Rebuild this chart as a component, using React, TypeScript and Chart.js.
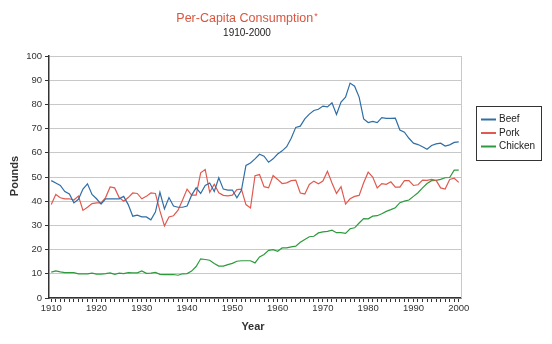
import React, { useEffect, useRef } from "react";
import { Chart, registerables } from "chart.js";
Chart.register(...registerables);

const years: string[] = Array.from({ length: 91 }, (_, i) => String(1910 + i));
const tickYears = ["1910", "1920", "1930", "1940", "1950", "1960", "1970", "1980", "1990", "2000"];

const beef = [
  48.5, 47.5, 46.5, 44, 43, 39.3, 40.8, 45, 47.2, 42.8,
  41, 38.8, 41, 41, 41, 41, 42, 38.6, 33.8, 34.2,
  33.5, 33.5, 32.3, 35.5, 43.7, 36.8, 41.5, 38, 37.5, 37.5,
  38, 42.5, 45.5, 43.2, 46.5, 47.5, 44, 49.7, 45, 44.6,
  44.6, 41.4, 44.5, 54.8, 55.8, 57.5, 59.4, 58.6, 56.1, 57.5,
  59.5, 60.8, 62.5, 66, 70.5, 71, 74, 76, 77.5, 78,
  79.3, 79, 80.7, 75.8, 81, 83, 88.8, 87.5, 83, 74,
  72.5, 73, 72.5, 74.5, 74.2, 74.2, 74.3, 69.4, 68.5, 66,
  64, 63.4, 62.5, 61.5, 63, 63.7, 64, 62.8, 63.3, 64.3,
  64.5,
];

const pork = [
  38.6, 42.8, 41.4, 41, 41, 40.5, 42.1, 36.2, 37.5, 39,
  39.3, 39.3, 41.5, 45.9, 45.5, 41.5, 40, 41.5, 43.4, 43.2,
  41, 42, 43.4, 43.2, 36, 29.8, 33.5, 34, 36.3, 40.5,
  45, 42.5, 42.5, 51.7, 53.1, 43.7, 47, 43.5, 42.4, 42.2,
  42.5, 44.8, 45, 38.6, 37.2, 50.5, 51, 46, 45.5, 50.6,
  49, 47.3, 47.6, 48.5, 48.7, 43.4, 43, 46.9, 48.3, 47.2,
  48.3, 52.4, 47.5, 43.2, 46, 38.8, 41, 42, 42.4, 47.6,
  52, 50, 45.5, 47.3, 47, 48, 45.8, 45.8, 48.5, 48.5,
  46.5, 46.8, 48.7, 48.6, 49, 48.6, 45.5, 45, 49, 49.5,
  47.8,
];

const chicken = [
  10.7, 11.2, 10.8, 10.5, 10.5, 10.5, 10, 10, 10, 10.3,
  9.9, 9.9, 10.1, 10.4, 9.8, 10.3, 10.1, 10.5, 10.4, 10.4,
  11.2, 10.2, 10.3, 10.6, 9.8, 9.7, 9.7, 9.7, 9.4, 10,
  10.1, 11.1, 13, 16.2, 15.9, 15.6, 14.3, 13.2, 13.2, 13.8,
  14.3, 15.2, 15.4, 15.4, 15.4, 14.5, 17, 18, 19.7, 20,
  19.3, 20.7, 20.7, 21.1, 21.4, 23, 24.2, 25.3, 25.5, 26.9,
  27.3, 27.5, 28, 27, 27, 26.7, 28.6, 29, 31, 32.8,
  32.7, 33.8, 34, 34.8, 35.8, 36.5, 37.3, 39.4, 40, 40.5,
  42, 43.5, 45.5, 47.3, 48.5, 48.6, 49, 49.7, 49.8, 52.8,
  52.8,
];

const seriesNames = ["Beef", "Pork", "Chicken"];
const seriesColors = ["#2f6ea6", "#e05a50", "#2e9a3e"];
const titleText = "Per-Capita Consumption";
const subtitleText = "1910-2000";
const yTitle = "Pounds";
const xTitle = "Year";

const FONT = "'Liberation Sans', Arial, sans-serif";

const decor = {
  id: "decor",
  beforeDatasetsDraw(chart: any) {
    const { ctx, chartArea } = chart;
    ctx.save();
    ctx.strokeStyle = "#c8c8c8";
    ctx.lineWidth = 1;
    ctx.beginPath();
    const rx = Math.round(chartArea.right) + 0.5;
    ctx.moveTo(rx, chartArea.top);
    ctx.lineTo(rx, chartArea.bottom);
    ctx.stroke();
    ctx.restore();
  },
  afterDraw(chart: any) {
    const { ctx } = chart;
    ctx.save();
    // title
    ctx.font = `12.5px ${FONT}`;
    ctx.fillStyle = "#d9553f";
    ctx.textBaseline = "middle";
    const tw = ctx.measureText(titleText).width;
    ctx.font = `9px ${FONT}`;
    const aw = ctx.measureText("*").width + 1;
    const cx = 247;
    const tx = cx - (tw + aw) / 2;
    ctx.font = `12.5px ${FONT}`;
    ctx.textAlign = "left";
    ctx.fillText(titleText, tx, 18.5);
    ctx.font = `9px ${FONT}`;
    ctx.fillText("*", tx + tw + 1, 16.5);
    // subtitle
    ctx.font = `10px ${FONT}`;
    ctx.fillStyle = "#222";
    ctx.textAlign = "center";
    ctx.fillText(subtitleText, cx, 33);
    // axis titles
    ctx.font = `bold 11px ${FONT}`;
    ctx.fillStyle = "#333";
    ctx.fillText(xTitle, 253, 327);
    ctx.save();
    ctx.translate(15, 176);
    ctx.rotate(-Math.PI / 2);
    ctx.fillText(yTitle, 0, 0);
    ctx.restore();
    // legend
    const bx = 476.5, by = 106.5, bw = 65, bh = 54;
    ctx.strokeStyle = "#333";
    ctx.lineWidth = 1;
    ctx.strokeRect(bx, by, bw, bh);
    ctx.font = `10px ${FONT}`;
    ctx.textAlign = "left";
    ctx.fillStyle = "#222";
    seriesNames.forEach((name, i) => {
      const ly = 119.5 + i * 13.5;
      ctx.strokeStyle = seriesColors[i];
      ctx.lineWidth = 2;
      ctx.beginPath();
      ctx.moveTo(481, ly);
      ctx.lineTo(496, ly);
      ctx.stroke();
      ctx.fillText(name, 499, ly);
    });
    ctx.restore();
  },
};

export default function App() {
  const ref = useRef<HTMLCanvasElement | null>(null);
  useEffect(() => {
    if (!ref.current) return;
    const data = [beef, pork, chicken];
    const chart = new Chart(ref.current, {
      type: "line",
      data: {
        labels: years,
        datasets: seriesNames.map((name, i) => ({
          label: name,
          data: data[i],
          borderColor: seriesColors[i],
          backgroundColor: seriesColors[i],
          borderWidth: 1.2,
          pointRadius: 0,
          tension: 0,
          fill: false,
        })),
      },
      options: {
        responsive: false,
        animation: false,
        devicePixelRatio: 1,
        layout: { padding: { left: 9, right: 91, top: 56, bottom: 16 } },
        plugins: {
          legend: { display: false },
          title: { display: false },
          tooltip: { enabled: false },
        },
        scales: {
          x: {
            type: "category",
            offset: true,
            afterFit: (s: any) => { s.height = 30; },
            grid: { drawOnChartArea: false, color: "#333", tickLength: 4, offset: false },
            border: { color: "#333", width: 1.5 },
            ticks: {
              autoSkip: false,
              maxRotation: 0,
              padding: 1,
              color: "#333",
              font: { family: FONT, size: 9.5 },
              callback: function (this: any, v: any) {
                const lab = years[v as number];
                return tickYears.includes(lab) ? lab : "";
              },
            },
          },
          y: {
            min: 0,
            max: 100,
            afterFit: (s: any) => { s.width = 40; },
            grid: { color: "#c8c8c8", tickColor: "#333", tickLength: 4 },
            border: { color: "#333", width: 1.5 },
            ticks: {
              stepSize: 10,
              padding: 3,
              color: "#333",
              font: { family: FONT, size: 9.5 },
            },
          },
        },
      },
      plugins: [decor],
    });
    return () => chart.destroy();
  }, []);
  return (
    <div style={{ position: "fixed", left: 0, top: 0, width: 552, height: 344, background: "#fff" }}>
      <canvas ref={ref} width={552} height={344} />
    </div>
  );
}
